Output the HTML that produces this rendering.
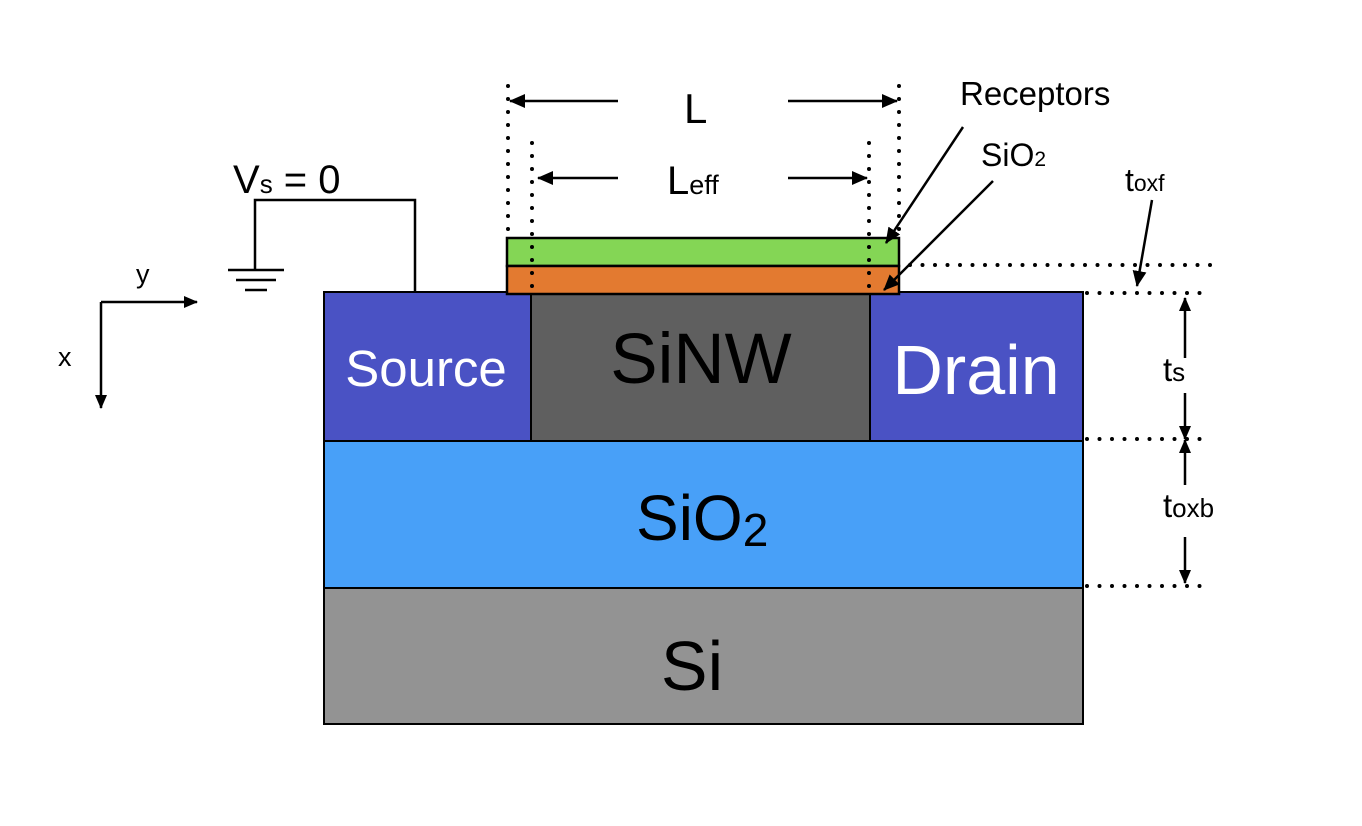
<!DOCTYPE html>
<html><head><meta charset="utf-8"><style>body{margin:0;background:#fff}svg{display:block}text{font-family:"Liberation Sans",sans-serif}</style></head><body>
<svg width="1362" height="826" viewBox="0 0 1362 826" xmlns="http://www.w3.org/2000/svg">
<defs><marker id="a" markerWidth="14" markerHeight="14" refX="13" refY="7" orient="auto" markerUnits="userSpaceOnUse" viewBox="0 0 14 14"><path d="M0,1 L14,7 L0,13 z" fill="#000"/></marker>
<marker id="b" markerWidth="16" markerHeight="16" refX="15" refY="8" orient="auto" markerUnits="userSpaceOnUse" viewBox="0 0 16 16"><path d="M0,1 L16,8 L0,15 z" fill="#000"/></marker></defs>
<g stroke="#000" stroke-width="2">
<rect x="324" y="588" width="759" height="136" fill="#939393"/>
<rect x="324" y="441" width="759" height="147" fill="#48a0f8"/>
<rect x="324" y="292" width="207" height="149" fill="#4a52c4"/>
<rect x="870" y="292" width="213" height="149" fill="#4a52c4"/>
<rect x="531" y="293" width="339" height="148" fill="#5f5f5f"/>
<rect x="507" y="238" width="392" height="28" fill="#84d655" stroke-width="2.5"/>
<rect x="507" y="266" width="392" height="28" fill="#e37a30" stroke-width="2.5"/>
</g>
<g stroke="#000" stroke-width="4" stroke-linecap="round" stroke-dasharray="0 13" fill="none">
<line x1="508" y1="86" x2="508" y2="238"/>
<line x1="899" y1="86" x2="899" y2="238"/>
<line x1="532" y1="143" x2="532" y2="294"/>
<line x1="869" y1="143" x2="869" y2="294"/>
<line x1="910" y1="265" x2="1212" y2="265" stroke-dasharray="0 12.5"/>
<line x1="1087" y1="293" x2="1212" y2="293" stroke-dasharray="0 12.5"/>
<line x1="1087" y1="439" x2="1212" y2="439" stroke-dasharray="0 12.5"/>
<line x1="1087" y1="586" x2="1212" y2="586" stroke-dasharray="0 12.5"/>
</g>
<g stroke="#000" stroke-width="2.5" fill="none">
<line x1="618" y1="101" x2="510" y2="101" marker-end="url(#b)"/>
<line x1="788" y1="101" x2="897" y2="101" marker-end="url(#b)"/>
<line x1="618" y1="178" x2="538" y2="178" marker-end="url(#b)"/>
<line x1="788" y1="178" x2="867" y2="178" marker-end="url(#b)"/>
<line x1="963" y1="127" x2="886" y2="243" marker-end="url(#b)"/>
<line x1="993" y1="181" x2="884" y2="290" marker-end="url(#b)"/>
<line x1="1152" y1="200" x2="1137" y2="286" marker-end="url(#b)"/>
<line x1="1185" y1="358" x2="1185" y2="298" marker-end="url(#a)"/>
<line x1="1185" y1="393" x2="1185" y2="439" marker-end="url(#a)"/>
<line x1="1185" y1="485" x2="1185" y2="440" marker-end="url(#a)"/>
<line x1="1185" y1="537" x2="1185" y2="583" marker-end="url(#a)"/>
<polyline points="255,270 255,200 415,200 415,292"/>
<line x1="228" y1="270" x2="284" y2="270"/>
<line x1="236" y1="280" x2="276" y2="280"/>
<line x1="245" y1="290" x2="267" y2="290"/>
<line x1="101" y1="302" x2="197" y2="302" marker-end="url(#a)"/>
<line x1="101" y1="302" x2="101" y2="408" marker-end="url(#a)"/>
</g>
<g fill="#000">
<text x="136" y="283" font-size="27">y</text>
<text x="58" y="366" font-size="27">x</text>
<text x="233" y="193" font-size="40">V<tspan font-size="26">s</tspan> = 0</text>
<text x="684" y="123" font-size="42">L</text>
<text x="667" y="194" font-size="40">L<tspan font-size="27">eff</tspan></text>
<text x="960" y="105" font-size="33">Receptors</text>
<text x="981" y="166" font-size="32">SiO<tspan font-size="21">2</tspan></text>
<text x="1125" y="191" font-size="32">t<tspan font-size="23">oxf</tspan></text>
<text x="1163" y="381" font-size="33">t<tspan font-size="26">s</tspan></text>
<text x="1163" y="517" font-size="33">t<tspan font-size="26">oxb</tspan></text>
<text x="426" y="386" font-size="51" fill="#fff" text-anchor="middle">Source</text>
<text x="976" y="394" font-size="70" fill="#fff" text-anchor="middle">Drain</text>
<text x="701" y="383" font-size="71" text-anchor="middle">SiNW</text>
<text x="636" y="540" font-size="64">SiO<tspan font-size="46" dy="6">2</tspan></text>
<text x="692" y="690" font-size="70" text-anchor="middle">Si</text>
</g>
</svg>
</body></html>
